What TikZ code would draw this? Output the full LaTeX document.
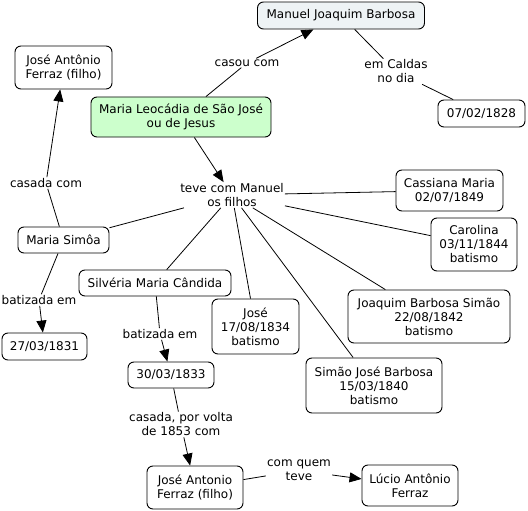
\documentclass[tikz,border=0pt]{standalone}
\usepackage{fontspec}
\setmainfont{DejaVu Sans}
\usetikzlibrary{arrows.meta}
\definecolor{topfill}{HTML}{EEF3F5}
\definecolor{greenfill}{HTML}{CCFFCC}
\tikzset{
  concept/.style={draw=black, line width=0.9pt, rounded corners=6pt, fill=white, align=center, inner sep=2pt, font=\fontsize{12}{14}\selectfont},
  phrase/.style={align=center, inner sep=1pt, font=\fontsize{12}{14}\selectfont},
  conn/.style={draw=black, line width=0.8pt},
  arr/.style={conn, -{Triangle[length=12pt,width=10pt]}}
}
\begin{document}
\begin{tikzpicture}[x=1pt,y=-1pt]
\useasboundingbox (0,0) rectangle (528,511);
% concepts
\node[concept, fill=topfill, minimum width=167pt, minimum height=27pt] (manuel) at (341,15.5) {Manuel Joaquim Barbosa};
\node[concept, minimum width=97pt, minimum height=43pt] (jafA) at (63.5,67.5) {José Antônio\\Ferraz (filho)};
\node[concept, fill=greenfill, minimum width=180pt, minimum height=40pt] (maria) at (181,117) {Maria Leocádia de São José\\ou de Jesus};
\node[concept, minimum width=87pt, minimum height=27pt] (d1828) at (481.5,113.5) {07/02/1828};
\node[concept, minimum width=107pt, minimum height=41pt] (cass) at (449.5,190.5) {Cassiana Maria\\02/07/1849};
\node[concept, minimum width=86pt, minimum height=53pt] (carol) at (474,244.5) {Carolina\\03/11/1844\\batismo};
\node[concept, minimum width=91pt, minimum height=26pt] (simoa) at (63.5,240) {Maria Simôa};
\node[concept, minimum width=152pt, minimum height=26pt] (silv) at (155,283) {Silvéria Maria Cândida};
\node[concept, minimum width=87pt, minimum height=55pt] (jose) at (255.5,326.5) {José\\17/08/1834\\batismo};
\node[concept, minimum width=162pt, minimum height=53pt] (joaq) at (429,316.5) {Joaquim Barbosa Simão\\22/08/1842\\batismo};
\node[concept, minimum width=85pt, minimum height=27pt] (d1831) at (44.5,346.5) {27/03/1831};
\node[concept, minimum width=86pt, minimum height=26pt] (d1833) at (171,375) {30/03/1833};
\node[concept, minimum width=136pt, minimum height=55pt] (simao) at (374,385.5) {Simão José Barbosa\\15/03/1840\\batismo};
\node[concept, minimum width=96pt, minimum height=43pt] (jafB) at (195,487.5) {José Antonio\\Ferraz (filho)};
\node[concept, minimum width=96pt, minimum height=41pt] (lucio) at (410,485.5) {Lúcio Antônio\\Ferraz};
% linking phrases
\node[phrase] (casou) at (247,63) {casou com};
\node[phrase] (caldas) at (396,71.5) {em Caldas\\no dia};
\node[phrase] (teve) at (232,195) {teve com Manuel\\os filhos};
\node[phrase] (casada) at (46,183) {casada com};
\node[phrase] (batA) at (39,300) {batizada em};
\node[phrase] (batB) at (160,334) {batizada em};
\node[phrase] (volta) at (181,424.5) {casada, por volta\\de 1853 com};
\node[phrase] (quem) at (299,470.5) {com quem\\teve};
% connectors
\draw[conn] (maria) -- (casou);
\draw[arr] (casou) -- (manuel);
\draw[conn] (manuel) -- (caldas);
\draw[conn] (caldas) -- (d1828);
\draw[arr] (maria) -- (teve);
\draw[conn] (teve) -- (cass);
\draw[conn] (teve) -- (carol);
\draw[conn] (teve) -- (joaq);
\draw[conn] (teve) -- (simao);
\draw[conn] (teve) -- (jose);
\draw[conn] (teve) -- (silv);
\draw[conn] (teve) -- (simoa);
\draw[conn] (simoa) -- (casada);
\draw[arr] (casada) -- (jafA);
\draw[conn] (simoa) -- (batA);
\draw[arr] (batA) -- (d1831);
\draw[conn] (silv) -- (batB);
\draw[arr] (batB) -- (d1833);
\draw[conn] (d1833) -- (volta);
\draw[arr] (volta) -- (jafB);
\draw[conn] (jafB) -- (quem);
\draw[arr] (quem) -- (lucio);
\end{tikzpicture}
\end{document}
